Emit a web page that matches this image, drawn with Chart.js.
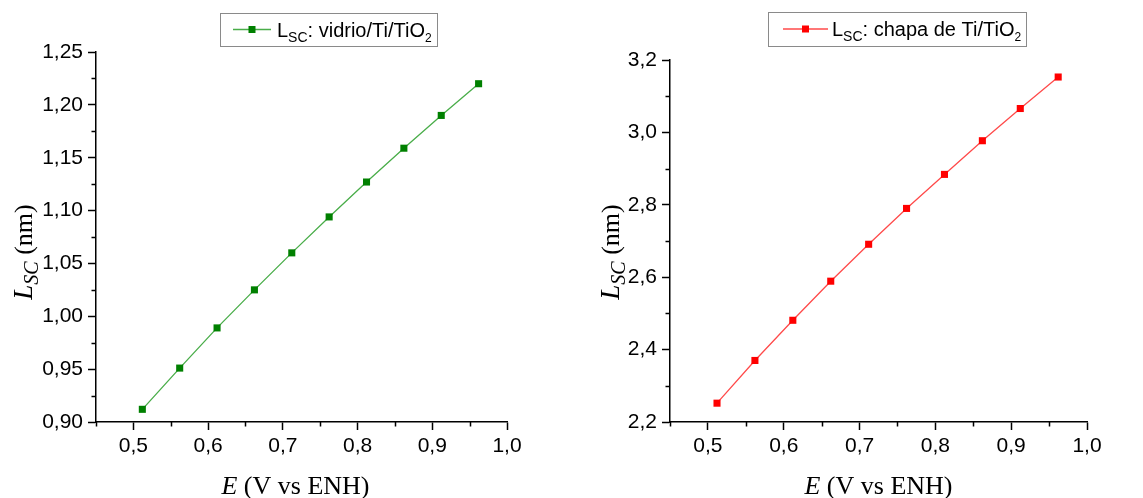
<!DOCTYPE html>
<html>
<head>
<meta charset="utf-8">
<script src="https://cdn.jsdelivr.net/npm/chart.js@4/dist/chart.umd.min.js"></script>
<style>
  html, body { margin: 0; padding: 0; background: #fff; }
  #wrap { position: relative; width: 1143px; height: 498px; }
  #leftChart { position: absolute; left: 0; top: 0; }
  #rightChart { position: absolute; left: 585px; top: 0; }
</style>
</head>
<body>
<div id="wrap">
  <canvas id="leftChart" width="585" height="498"></canvas>
  <canvas id="rightChart" width="558" height="498"></canvas>
</div>
<script>
// potenciales (V vs ENH)
const potentials = [0.512, 0.562, 0.612, 0.662, 0.712, 0.762, 0.812, 0.862, 0.912, 0.962];

// L_SC (nm) para cada sustrato
const lscVidrio = [0.912, 0.951, 0.989, 1.025, 1.060, 1.094, 1.127, 1.159, 1.190, 1.220];
const lscChapa = [2.252, 2.370, 2.481, 2.589, 2.691, 2.790, 2.884, 2.977, 3.066, 3.153];

// ticks
const xTicks = [0.5, 0.6, 0.7, 0.8, 0.9, 1.0];
const xMinorTicks = [0.45, 0.55, 0.65, 0.75, 0.85, 0.95];
const leftYTicks = [0.90, 0.95, 1.00, 1.05, 1.10, 1.15, 1.20, 1.25];
const leftYMinorTicks = [0.925, 0.975, 1.025, 1.075, 1.125, 1.175, 1.225];
const rightYTicks = [2.2, 2.4, 2.6, 2.8, 3.0, 3.2];
const rightYMinorTicks = [2.3, 2.5, 2.7, 2.9, 3.1];

const SANS = '"Liberation Sans", Arial, sans-serif';
const SERIF = '"Liberation Serif", "Times New Roman", serif';

function commaLabel(digits) {
    return (value) => value.toFixed(digits).replace('.', ',');
}

// dibuja una lista de fragmentos de texto con distinta fuente/desplazamiento
function measureRuns(ctx, runs) {
    let w = 0;
    runs.forEach(r => { ctx.font = r.font; w += ctx.measureText(r.text).width; });
    return w;
}

function drawRuns(ctx, runs, x, y) {
    let cx = x;
    runs.forEach(r => {
        ctx.font = r.font;
        ctx.fillText(r.text, cx, y + (r.dy || 0));
        cx += ctx.measureText(r.text).width;
    });
}

const decorPlugin = {
    id: 'decor',
    afterDraw(chart, args, opts) {
        const ctx = chart.ctx;
        const area = chart.chartArea;
        const xs = chart.scales.x;
        const ys = chart.scales.y;

        ctx.save();
        ctx.strokeStyle = '#000';
        ctx.lineWidth = 1.5;

        // minor ticks
        ctx.beginPath();
        opts.xMinor.forEach(v => {
            const px = Math.round(xs.getPixelForValue(v)) + 0.5;
            ctx.moveTo(px, area.bottom);
            ctx.lineTo(px, area.bottom + 4.5);
        });
        opts.yMinor.forEach(v => {
            const py = Math.round(ys.getPixelForValue(v)) + 0.5;
            ctx.moveTo(area.left, py);
            ctx.lineTo(area.left - 4.5, py);
        });
        ctx.stroke();

        ctx.fillStyle = '#000';
        ctx.textBaseline = 'alphabetic';
        ctx.textAlign = 'left';

        // titulo eje x
        const xRuns = [
            { text: 'E', font: 'italic 26px ' + SERIF },
            { text: ' (V vs ENH)', font: '26px ' + SERIF }
        ];
        const xw = measureRuns(ctx, xRuns);
        drawRuns(ctx, xRuns, (area.left + area.right) / 2 - xw / 2 + opts.xTitleShift, 494);

        // titulo eje y
        const yRuns = [
            { text: 'L', font: 'italic 27px ' + SERIF },
            { text: 'SC', font: 'italic 20px ' + SERIF, dy: 6 },
            { text: ' (nm)', font: '26px ' + SERIF }
        ];
        const yw = measureRuns(ctx, yRuns);
        ctx.save();
        ctx.translate(opts.yTitleX, 252);
        ctx.rotate(-Math.PI / 2);
        drawRuns(ctx, yRuns, -yw / 2, 0);
        ctx.restore();

        // leyenda
        const lg = opts.legend;
        ctx.fillStyle = '#fff';
        ctx.fillRect(lg.x, lg.y, lg.w, lg.h);
        ctx.strokeStyle = '#8a8a8a';
        ctx.lineWidth = 1;
        ctx.strokeRect(lg.x + 0.5, lg.y + 0.5, lg.w, lg.h);

        const midY = lg.y + lg.h / 2;
        ctx.strokeStyle = opts.lineColor;
        ctx.lineWidth = 1.3;
        ctx.beginPath();
        ctx.moveTo(lg.lineX0, midY);
        ctx.lineTo(lg.lineX1, midY);
        ctx.stroke();
        ctx.fillStyle = opts.markerColor;
        const mx = (lg.lineX0 + lg.lineX1) / 2;
        ctx.fillRect(mx - 3.5, midY - 3.5, 7, 7);

        ctx.fillStyle = '#000';
        drawRuns(ctx, [
            { text: 'L', font: '20px ' + SANS },
            { text: 'SC', font: '14px ' + SANS, dy: 5 },
            { text: lg.text, font: '20px ' + SANS },
            { text: '2', font: '12px ' + SANS, dy: 5 }
        ], lg.textX, midY + 7);

        ctx.restore();
    }
};

function buildChart(canvasId, values, cfg) {
    const ctx = document.getElementById(canvasId).getContext('2d');

    const axisGrid = {
        display: true,
        drawOnChartArea: false,
        drawTicks: true,
        tickLength: 8,
        tickWidth: 1.5,
        tickColor: '#000',
        color: '#000'
    };

    return new Chart(ctx, {
        type: 'line',
        data: {
            datasets: [{
                label: cfg.label,
                data: potentials.map((x, i) => ({ x: x, y: values[i] })),
                borderColor: cfg.lineColor,
                borderWidth: 1.3,
                pointStyle: 'rect',
                pointRadius: 5,
                pointBackgroundColor: cfg.markerColor,
                pointBorderColor: cfg.markerColor,
                pointBorderWidth: 0,
                tension: 0,
                fill: false
            }]
        },
        options: {
            responsive: false,
            animation: false,
            layout: { padding: cfg.padding },
            plugins: {
                legend: { display: false },
                tooltip: { enabled: false },
                decor: {
                    xMinor: xMinorTicks,
                    yMinor: cfg.yMinor,
                    yTitleX: cfg.yTitleX,
                    xTitleShift: cfg.xTitleShift,
                    lineColor: cfg.lineColor,
                    markerColor: cfg.markerColor,
                    legend: cfg.legend
                }
            },
            scales: {
                x: {
                    type: 'linear',
                    position: 'bottom',
                    min: 0.45,
                    max: 1.0,
                    border: { color: '#000', width: 1.5 },
                    grid: axisGrid,
                    ticks: {
                        color: '#000',
                        font: { family: SANS, size: 21 },
                        padding: 4,
                        maxRotation: 0,
                        autoSkip: false,
                        callback: commaLabel(1)
                    },
                    afterBuildTicks: axis => { axis.ticks = xTicks.map(v => ({ value: v })); },
                    afterFit: axis => { axis.height = 498 - cfg.bottom; }
                },
                y: {
                    type: 'linear',
                    position: 'left',
                    min: cfg.yTicks[0],
                    max: cfg.yTicks[cfg.yTicks.length - 1],
                    border: { color: '#000', width: 1.5 },
                    grid: axisGrid,
                    ticks: {
                        color: '#000',
                        font: { family: SANS, size: 21 },
                        padding: 5,
                        autoSkip: false,
                        callback: commaLabel(cfg.yDigits)
                    },
                    afterBuildTicks: axis => { axis.ticks = cfg.yTicks.map(v => ({ value: v })); },
                    afterFit: axis => { axis.width = cfg.left; }
                }
            }
        },
        plugins: [decorPlugin]
    });
}

buildChart('leftChart', lscVidrio, {
    label: 'LSC: vidrio/Ti/TiO2',
    lineColor: '#49ad49',
    markerColor: '#008000',
    yTicks: leftYTicks,
    yMinor: leftYMinorTicks,
    yDigits: 2,
    left: 96,
    bottom: 422,
    padding: { top: 52, right: 78, left: 0, bottom: 0 },
    yTitleX: 32,
    xTitleShift: -6,
    legend: { x: 220, y: 13, w: 217, h: 33, lineX0: 233, lineX1: 271, textX: 277, text: ': vidrio/Ti/TiO' }
});

buildChart('rightChart', lscChapa, {
    label: 'LSC: chapa de Ti/TiO2',
    lineColor: '#ff4a4a',
    markerColor: '#ff0000',
    yTicks: rightYTicks,
    yMinor: rightYMinorTicks,
    yDigits: 1,
    left: 85,
    bottom: 422,
    padding: { top: 60, right: 56, left: 0, bottom: 0 },
    yTitleX: 34,
    xTitleShift: 0,
    legend: { x: 183, y: 12, w: 258, h: 34, lineX0: 198, lineX1: 243, textX: 247, text: ': chapa de Ti/TiO' }
});
</script>
</body>
</html>
